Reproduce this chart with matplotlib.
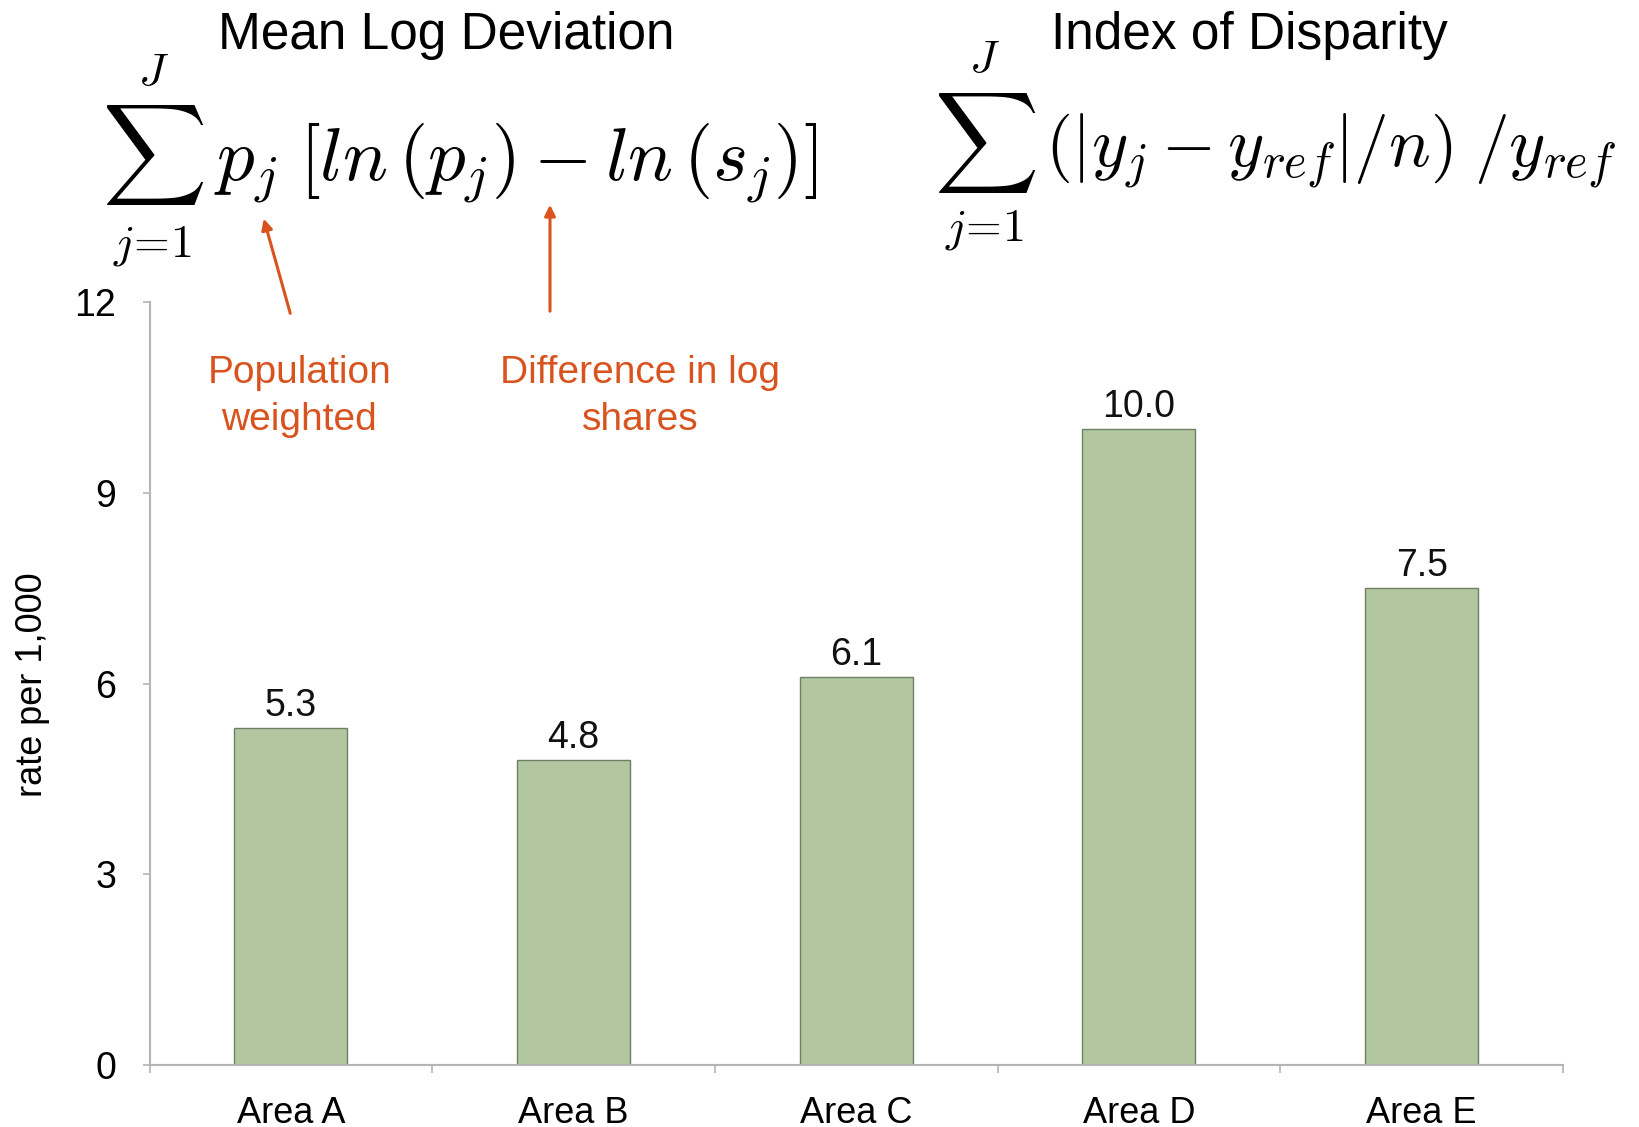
import numpy as np
import matplotlib
matplotlib.use("Agg")
import matplotlib.pyplot as plt

# data
areas = ["Area A", "Area B", "Area C", "Area D", "Area E"]
rates = [5.3, 4.8, 6.1, 10.0, 7.5]
yticks = [0, 3, 6, 9, 12]

plt.rcParams['font.family'] = ['Liberation Sans', 'DejaVu Sans']
plt.rcParams['mathtext.fontset'] = 'cm'

W, H = 1639, 1127
fig = plt.figure(figsize=(W / 100, H / 100), dpi=100)
ax = fig.add_axes([149.5 / W, 1 - 1065 / H, (1563 - 149.5) / W, (1065 - 302) / H])

x = np.arange(len(areas))
ax.bar(x, rates, width=0.4, color='#b2c69f', edgecolor='#6f7f63', linewidth=1.0, zorder=2)

for xi, v in zip(x, rates):
    ax.text(xi, v + 0.06, f"{v:.1f}", ha='center', va='bottom', fontsize=27, color='#111111')

ax.set_xlim(-0.5, len(areas) - 0.5)
ax.set_ylim(0, 12)
ax.set_yticks(yticks)
ax.set_yticklabels([str(t) for t in yticks])
ax.set_xticks(x)
ax.set_xticklabels(areas)
ax.set_xticks(np.arange(-0.5, len(areas), 1.0), minor=True)

for s in ['top', 'right']:
    ax.spines[s].set_visible(False)
for s in ['left', 'bottom']:
    ax.spines[s].set_color('#b4b4b4')
    ax.spines[s].set_linewidth(1.5)

ax.tick_params(axis='y', length=5, width=1.2, color='#b4b4b4', labelsize=27, pad=19)
ax.tick_params(axis='x', which='major', length=0, labelsize=26, pad=22)
ax.tick_params(axis='x', which='minor', length=6, width=1.2, color='#b4b4b4')

fig.text(33 / W, 1 - 685 / H, "rate per 1,000", rotation=90, ha='center', va='center', fontsize=26)

# titles
fig.text(446 / W, 1 - 49 / H, "Mean Log Deviation", ha='center', va='baseline', fontsize=37)
fig.text(1249 / W, 1 - 49 / H, "Index of Disparity", ha='center', va='baseline', fontsize=37)

# formulas: big sum sign with limits, then the body
def big_sum(cx, cy, jy, ly):
    fig.text(cx / W, 1 - cy / H, r"$\sum$", ha='center', va='center', fontsize=52)
    fig.text(cx / W, 1 - jy / H, r"$J$", ha='center', va='center', fontsize=33)
    fig.text(cx / W, 1 - ly / H, r"$j\!=\!1$", ha='center', va='center', fontsize=33)

big_sum(153, 155, 73, 246)
fig.text(214 / W, 1 - 164 / H, r"$p_j\;[ln\,(p_j) - ln\,(s_j)]$",
         ha='left', va='center', fontsize=54)
big_sum(985, 143, 60, 230)
fig.text(1045 / W, 1 - 152 / H, r"$(|y_j - y_{ref}|/n)\;/y_{ref}$",
         ha='left', va='center', fontsize=50)

# annotations
orange = '#d9531e'
ax.text(0.03, 10.52, "Population\nweighted", ha='center', va='center', fontsize=28,
        color=orange, linespacing=1.4)
ax.text(1.235, 10.52, "Difference in log\nshares", ha='center', va='center', fontsize=28,
        color=orange, linespacing=1.4)
ax.annotate("", xy=(263 / W, 1 - 216 / H), xycoords='figure fraction',
            xytext=(291 / W, 1 - 316 / H), textcoords='figure fraction',
            arrowprops=dict(arrowstyle='-|>', color=orange, lw=2.2, mutation_scale=16))
ax.annotate("", xy=(550 / W, 1 - 202 / H), xycoords='figure fraction',
            xytext=(550 / W, 1 - 314 / H), textcoords='figure fraction',
            arrowprops=dict(arrowstyle='-|>', color=orange, lw=2.2, mutation_scale=16))

fig.savefig("out.png", dpi=100)
